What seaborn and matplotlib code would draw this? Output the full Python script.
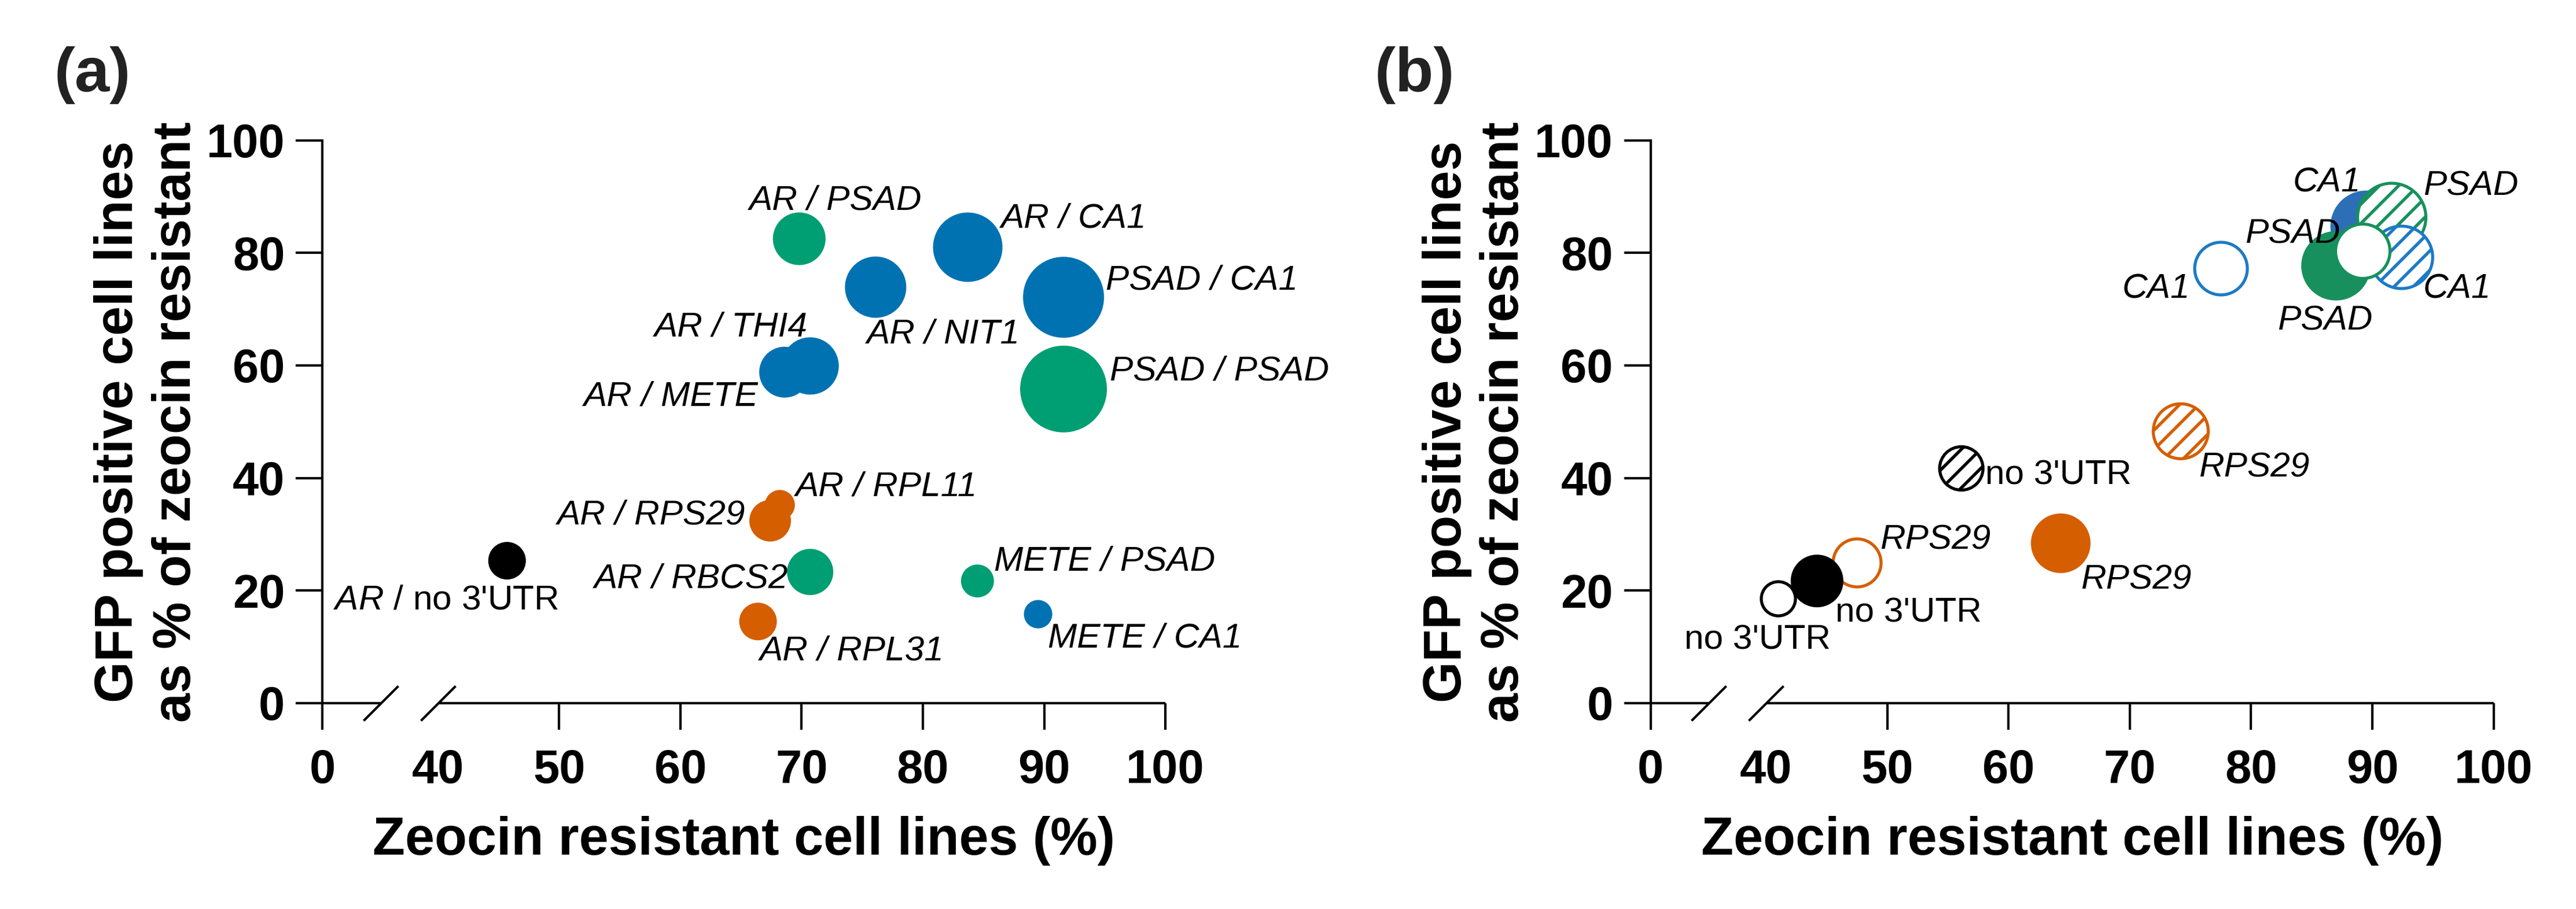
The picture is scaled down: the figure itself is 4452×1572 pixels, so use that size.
import numpy as np
import pandas as pd
import matplotlib
matplotlib.use("Agg")
import matplotlib.pyplot as plt
import seaborn as sns

# ---------------- data: panel (a) ----------------
labels_a = ["AR / PSAD", "AR / CA1", "AR / NIT1", "PSAD / CA1", "PSAD / PSAD",
            "AR / THI4", "AR / METE", "AR / RPL11", "AR / RPS29", "AR / RBCS2",
            "METE / PSAD", "METE / CA1", "AR / RPL31", r"$\mathit{AR}$ / no 3'UTR"]
zeocin_a = [69.8, 83.7, 76.1, 91.6, 91.6, 70.7, 68.6, 68.2, 67.4, 70.7, 84.5, 89.5, 66.4, 45.7]
gfp_a = [82.5, 81.0, 73.9, 72.1, 55.8, 59.9, 58.8, 35.2, 32.4, 23.3, 21.7, 15.8, 14.5, 25.3]
utr_a = ["photosynthetic", "other", "other", "other", "photosynthetic",
         "other", "other", "ribosomal", "ribosomal", "photosynthetic",
         "photosynthetic", "other", "ribosomal", "none"]
bubble_a = [36.8, 64.0, 49.9, 87.1, 100.0, 43.6, 34.4, 12.0, 23.0, 28.4, 14.4, 10.7, 18.8, 18.8]

# ---------------- data: panel (b) ----------------
labels_b = ["CA1", "PSAD", "CA1", "PSAD", "PSAD", "CA1",
            "no 3'UTR", "RPS29", "RPS29", "no 3'UTR", "no 3'UTR", "RPS29"]
zeocin_b = [89.5, 91.6, 92.4, 87.0, 89.2, 77.5, 56.1, 64.3, 47.5, 44.2, 41.0, 74.2]
gfp_b = [84.7, 86.3, 79.2, 77.7, 80.3, 77.3, 41.7, 28.4, 25.0, 21.7, 18.6, 48.3]
utr_b = ["other", "photosynthetic", "other", "photosynthetic", "photosynthetic", "other",
         "none", "ribosomal", "ribosomal", "none", "none", "ribosomal"]
variant_b = ["solid", "hatched", "hatched", "solid", "open", "open",
             "hatched", "solid", "open", "solid", "open", "hatched"]
bubble_b = [68.3, 61.9, 51.8, 64.0, 39.3, 36.8, 25.0, 47.2, 30.6, 36.8, 15.5, 40.1]

# ---------------- axis ticks ----------------
x_tick_values = [0, 40, 50, 60, 70, 80, 90, 100]
x_tick_labels = ["0", "40", "50", "60", "70", "80", "90", "100"]
y_tick_values = [0, 20, 40, 60, 80, 100]

# ---------------- styles / layout ----------------
X_ZERO = 30.48          # where the "0" tick sits on the broken axis
BREAK_LO, BREAK_HI = 35.26, 40.0
S_MAX = 1296.0          # marker area (pt^2) for bubble value 100

pal_a = {"photosynthetic": "#009E73", "other": "#0072B2",
         "ribosomal": "#D55E00", "none": "#000000"}
pal_b_fill = {"photosynthetic": "#17905D", "other": "#2C6FB7",
              "ribosomal": "#D55E00", "none": "#000000"}
pal_b_line = {"photosynthetic": "#17905D", "other": "#1C7AC6",
              "ribosomal": "#D55E00", "none": "#000000"}

# label placement: (ha, dx_pt, dy_pt)
place_a = [("left", -20.8, 12.1), ("left", 13.8, 8.1), ("left", -3.7, -23.3),
           ("left", 17.5, 3.3), ("left", 19.2, 3.7), ("right", -1.1, 12.4),
           ("right", -10.9, -14.0), ("left", 6.6, 3.8), ("right", -10.3, -1.4),
           ("right", -9.0, -6.5), ("left", 7.0, 4.3), ("left", 4.1, -13.8),
           ("left", 0.6, -16.1), ("left", -72.1, -20.0)]
place_b = [("right", -2.3, 14.4), ("left", 13.0, 9.1), ("left", 8.9, -17.0),
           ("left", -24.2, -26.6), ("right", -9.4, 3.4), ("right", -12.6, -12.4),
           ("left", 9.9, -6.5), ("left", 8.3, -19.0), ("left", 9.6, 5.5),
           ("left", 7.7, -16.9), ("left", -38.9, -21.0), ("left", 7.4, -19.0)]

sns.set_style("white")
plt.rcParams.update({
    "font.family": ["Liberation Sans", "DejaVu Sans"],
    "mathtext.fontset": "custom",
    "mathtext.it": "Liberation Sans:italic",
    "mathtext.rm": "Liberation Sans",
    "mathtext.bf": "Liberation Sans:bold",
    "axes.edgecolor": "black",
    "axes.labelcolor": "black",
    "text.color": "black",
    "xtick.color": "black",
    "ytick.color": "black",
    "xtick.bottom": True,
    "ytick.left": True,
    "axes.linewidth": 1.0,
    "hatch.linewidth": 1.3,
})

df_a = pd.DataFrame({"zeocin": zeocin_a, "gfp": gfp_a, "utr": utr_a,
                     "bubble": bubble_a, "label": labels_a})
df_b = pd.DataFrame({"zeocin": zeocin_b, "gfp": gfp_b, "utr": utr_b,
                     "variant": variant_b, "bubble": bubble_b, "label": labels_b})

fig = plt.figure(figsize=(14.84, 5.24), dpi=300)
ax_a = fig.add_axes([0.1252, 0.2265, 0.3272, 0.6192])
ax_b = fig.add_axes([0.6408, 0.2265, 0.3272, 0.6192])

# ---- panel a scatter ----
sns.scatterplot(data=df_a, x="zeocin", y="gfp", hue="utr", palette=pal_a,
                size="bubble", sizes=(0, S_MAX), size_norm=(0, 100),
                edgecolor="none", linewidth=0, legend=False, ax=ax_a, zorder=3)

# ---- panel b scatter (one call per point to keep hatch/fill per marker) ----
for i in range(len(df_b)):
    row = df_b.iloc[[i]]
    v = variant_b[i]
    g = utr_b[i]
    if v == "solid":
        fc, ec, lw, hatch = pal_b_fill[g], "none", 0, None
    elif v == "open":
        fc, ec, lw, hatch = "white", pal_b_line[g], 1.25, None
    else:
        fc, ec, lw, hatch = "white", pal_b_line[g], 1.25, "///"
    with plt.rc_context({"hatch.color": pal_b_line[g], "hatch.linewidth": 1.3}):
        sns.scatterplot(data=row, x="zeocin", y="gfp", size="bubble",
                        sizes=(0, S_MAX), size_norm=(0, 100),
                        facecolor=fc, edgecolor=ec, linewidth=lw, hatch=hatch,
                        legend=False, ax=ax_b, zorder=3 + i * 0.01)


def annotate(ax, df, place):
    for (lab, x, y), (ha, dx, dy) in zip(df[["label", "zeocin", "gfp"]].values, place):
        italic = "no 3'UTR" not in lab
        ax.annotate(lab, xy=(x, y), xytext=(dx, dy), textcoords="offset points",
                    ha=ha, va="baseline", fontsize=14.5,
                    fontstyle="italic" if italic else "normal", zorder=6)


annotate(ax_a, df_a, place_a)
annotate(ax_b, df_b, place_b)


def style_axis(ax):
    for s in ["top", "right", "bottom"]:
        ax.spines[s].set_visible(False)
    ax.spines["left"].set_linewidth(1.0)
    ticks = [X_ZERO] + x_tick_values[1:]
    ax.set_xticks(ticks)
    ax.set_xticklabels(x_tick_labels)
    ax.set_yticks(y_tick_values)
    ax.set_yticklabels([str(v) for v in y_tick_values])
    ax.tick_params(axis="both", length=11, width=1.0, direction="out", labelsize=19.5)
    ax.tick_params(axis="x", pad=8)
    ax.tick_params(axis="y", pad=4.6)
    for lab in ax.get_xticklabels() + ax.get_yticklabels():
        lab.set_fontweight("bold")
    ax.xaxis.get_major_ticks()[1].tick1line.set_visible(False)
    # broken x axis line
    ax.plot([X_ZERO, BREAK_LO], [0, 0], color="k", lw=1.0, clip_on=False,
            solid_capstyle="butt", zorder=4)
    ax.plot([BREAK_HI, 100], [0, 0], color="k", lw=1.0, clip_on=False,
            solid_capstyle="butt", zorder=4)
    ax.plot([BREAK_LO, BREAK_HI], [0, 0], linestyle="none",
            marker=[(-1, -1), (1, 1)], markersize=14.4, markeredgewidth=1.0,
            color="k", clip_on=False, zorder=4)
    ax.set_xlim(X_ZERO, 100)
    ax.set_ylim(0, 100)
    ax.set_xlabel("Zeocin resistant cell lines (%)", fontsize=22, fontweight="bold")
    ax.xaxis.set_label_coords(0.5, -0.20)
    ax.set_ylabel("GFP positive cell lines\nas % of zeocin resistant",
                  fontsize=22, fontweight="bold", linespacing=1.2)
    ax.yaxis.set_label_coords(-0.144, 0.5)


style_axis(ax_a)
style_axis(ax_b)

fig.text(0.0211, 0.949, "(a)", fontsize=26, fontweight="bold", va="top", color="#222222")
fig.text(0.5335, 0.949, "(b)", fontsize=26, fontweight="bold", va="top", color="#222222")

fig.savefig("out.png", dpi=300)
